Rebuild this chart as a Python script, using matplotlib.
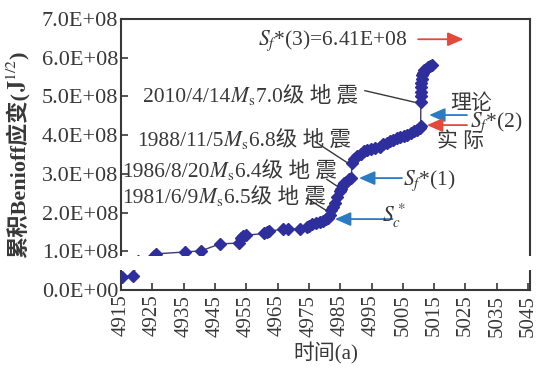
import matplotlib
matplotlib.use("Agg")
import matplotlib.pyplot as plt
import matplotlib.transforms as mtransforms
from matplotlib.patches import Rectangle
from matplotlib.ticker import FuncFormatter
import numpy as np

plt.rcParams["font.family"] = ["Liberation Serif", "Noto Sans CJK SC"]
plt.rcParams["mathtext.fontset"] = "stix"

# time axis (a) and cumulative Benioff strain (x 1e8 J^1/2)
years = [4915.3, 4918.8, 4920.3, 4925.6, 4926.0, 4935.4, 4940.6, 4946.6, 4952.7, 4953.3,
         4953.8, 4954.8, 4960.8, 4961.6, 4962.3, 4966.8, 4968.4, 4972.2, 4974.3, 4974.9,
         4976.0, 4977.2, 4978.4, 4979.5, 4980.5, 4981.0, 4981.8, 4982.2, 4982.8, 4983.3,
         4984.0, 4984.8, 4985.3, 4985.8, 4986.3, 4987.0, 4987.8, 4988.6, 4988.7, 4989.5,
         4990.4, 4991.5, 4992.5, 4993.6, 4994.8, 4996.0, 4997.7, 4998.8, 5000.0, 5001.0,
         5001.9, 5003.0, 5004.2, 5005.3, 5006.4, 5007.5, 5008.6, 5009.6, 5010.4, 5010.7,
         5010.75, 5010.8, 5010.85, 5010.9, 5010.95, 5011.0, 5011.1, 5011.3, 5011.8, 5012.4,
         5013.0, 5013.6, 5014.2]
strain_e8 = [0.34, 0.36, 0.74, 0.88, 0.93, 0.98, 1.01, 1.19, 1.21, 1.33,
             1.38, 1.41, 1.46, 1.50, 1.51, 1.58, 1.58, 1.58, 1.63, 1.66,
             1.70, 1.73, 1.75, 1.77, 1.82, 1.86, 1.94, 2.07, 2.14, 2.25,
             2.40, 2.55, 2.62, 2.70, 2.76, 2.80, 2.86, 2.89, 3.28, 3.38,
             3.45, 3.52, 3.58, 3.62, 3.65, 3.68, 3.70, 3.76, 3.80, 3.85,
             3.88, 3.92, 3.95, 3.98, 4.01, 4.05, 4.10, 4.13, 4.19, 4.24,
             4.86, 5.00, 5.12, 5.25, 5.35, 5.45, 5.55, 5.62, 5.68, 5.72,
             5.76, 5.80, 5.82]

x_ticks = [4915, 4925, 4935, 4945, 4955, 4965, 4975, 4985, 4995, 5005, 5015, 5025, 5035, 5045]
y_ticks = [0, 1e8, 2e8, 3e8, 4e8, 5e8, 6e8, 7e8]

sf3_label = "6.41E+08"

BLUE = "#2a7bc4"
RED = "#e5483b"
DOT = "#2e2e9c"
INK = "#383838"
SIZE = 15.5

fig = plt.figure(figsize=(5.48, 3.75), dpi=100)
ax = fig.add_axes([0.221, 0.227, 0.746, 0.722])

ax.plot(years, np.array(strain_e8) * 1e8, color="#3b3b70", lw=1.0,
        marker="D", ms=6.5, mfc=DOT, mec=DOT, zorder=3)

ax.set_xlim(4915, 5045.6)
ax.set_ylim(0, 7e8)
ax.set_xticks(x_ticks)
ax.set_xticklabels([str(t) for t in x_ticks], rotation=90, fontsize=15)
ax.set_yticks(y_ticks)
ax.yaxis.set_major_formatter(FuncFormatter(lambda v, p: f"{v:.1E}"))
ax.tick_params(axis="y", labelsize=16, pad=2)
ax.tick_params(direction="in", length=5, width=1.2, color=INK, labelcolor=INK)
for s in ax.spines.values():
    s.set_linewidth(1.5)
    s.set_color(INK)

renderer = fig.canvas.get_renderer()


def rich_text(x, y, parts, transform, size=SIZE, rotation=0, center=False, **common):
    # draw text pieces one after the other on a shared baseline
    texts, widths = [], []
    for s, kw in parts:
        t = fig.text(x, y, s, transform=transform, fontsize=size, rotation=rotation,
                     rotation_mode="anchor", ha="left", va="baseline",
                     color=INK, **common, **kw)
        bb = t.get_window_extent(renderer)
        widths.append(bb.height if rotation else bb.width)
        texts.append(t)
    shift = -sum(widths) / 2 if center else 0
    for t, w in zip(texts, widths):
        dx, dy = (0, shift) if rotation else (shift, 0)
        t.set_transform(mtransforms.offset_copy(transform, fig=fig, x=dx, y=dy, units="dots"))
        shift += w
    return texts


def arrow(tail, tip, color):
    ax.annotate("", xy=tip, xytext=tail, annotation_clip=False,
                arrowprops=dict(arrowstyle="-|>,head_length=0.8,head_width=0.35",
                                color=color, lw=1.3, mutation_scale=12, shrinkA=0, shrinkB=0))


def leader(p0, p1):
    ax.plot([p0[0], p1[0]], [p0[1], p1[1]], color=INK, lw=1.0, zorder=2)


ms = r"$M_\mathrm{s}$"
td = ax.transData

# earthquake labels
rich_text(4922.0, 4.86e8, [("2010/4/14", {}), (ms, {}), ("7.0级 地 震", {})], td)
rich_text(4920.1, 3.72e8, [("1988/11/5", {}), (ms, {}), ("6.8级 地 震", {})], td)
rich_text(4915.3, 2.92e8, [("1986/8/20", {}), (ms, {}), ("6.4级 地 震", {})], td)
rich_text(4915.3, 2.24e8, [("1981/6/9", {}), (ms, {}), ("6.5级 地 震", {})], td)
leader((4992.9, 5.15e8), (5009.4, 4.84e8))
leader((4977.0, 3.83e8), (4987.6, 3.27e8))
leader((4980.7, 2.86e8), (4985.5, 2.60e8))
leader((4974.3, 2.37e8), (4981.2, 2.02e8))

# S markers
rich_text(4958.8, 6.33e8, [(r"$S_f$*(3)=" + sf3_label, {})], td)
arrow((5009.9, 6.48e8), (5024.4, 6.48e8), RED)

rich_text(5020.0, 4.68e8, [("理论", {})], td, size=15)
rich_text(5015.9, 3.69e8, [("实 际", {})], td, size=15)
rich_text(5026.5, 4.21e8, [(r"$S_f$*(2)", {})], td)
arrow((5025.5, 4.52e8), (5013.4, 4.52e8), BLUE)
arrow((5025.5, 4.26e8), (5012.7, 4.26e8), RED)

rich_text(5005.1, 2.71e8, [(r"$S_f$*(1)", {})], td)
arrow((5004.7, 2.89e8), (4991.0, 2.89e8), BLUE)

rich_text(4998.4, 1.76e8, [(r"$S_c^*$", {})], td)
arrow((5001.7, 1.83e8), (4983.3, 1.83e8), BLUE)

# axis titles
ax.set_xlabel("时间(a)", fontsize=15, color=INK, labelpad=4)
rich_text(0.046, 0.587,
          [("累积Benioff应变(", {"weight": "bold"}), (r"$\mathbf{J}^{1/2}$", {}), (")", {"weight": "bold"})],
          fig.transFigure, size=16, rotation=90, center=True)

# white scan band across the lower part of the figure
fig.add_artist(Rectangle((118 / 548, 1 - 270 / 375), 1, 14 / 375, transform=fig.transFigure,
                         facecolor="white", edgecolor="none", zorder=10))

fig.savefig("out.png", dpi=100)
